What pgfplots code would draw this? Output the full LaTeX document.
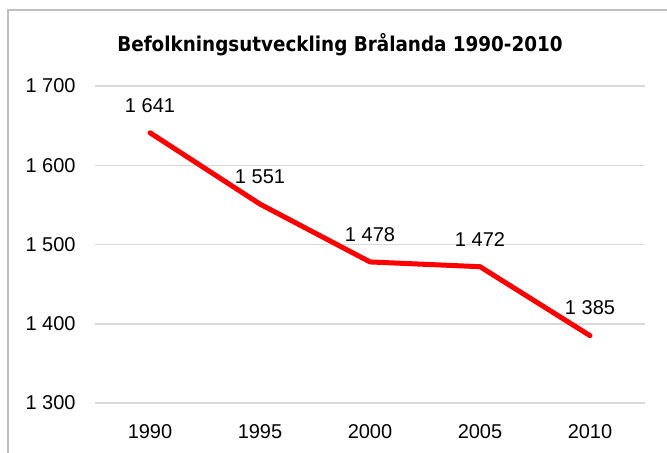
\documentclass[border=0pt]{standalone}
\usepackage{pgfplots}
\pgfplotsset{compat=1.18}
\usepackage{fontspec}
\setmainfont{Liberation Sans}
\newfontfamily\titlefont{DejaVu Sans Condensed}
\definecolor{gridc}{HTML}{D9D9D9}
\definecolor{framec}{HTML}{BFBFBF}
\begin{document}
\begin{tikzpicture}
\useasboundingbox (0,0) rectangle (333.5pt,226pt);
\draw[framec, line width=0.8pt] (4pt,-20pt) rectangle (350pt,221pt);
\node[font=\titlefont\bfseries\fontsize{10.2}{12}\selectfont] at (170pt,203.5pt) {Befolkningsutveckling Brålanda 1990-2010};
\begin{axis}[
  at={(47.5pt,24.5pt)}, anchor=south west,
  scale only axis, width=275pt, height=158.5pt,
  xmin=-0.5, xmax=4.5, ymin=1300, ymax=1700,
  xtick={0,1,2,3,4}, xticklabels={1990,1995,2000,2005,2010},
  ytick={1300,1400,1500,1600,1700},
  axis line style={draw=none},
  major tick length=0pt,
  ymajorgrids, grid style={gridc, line width=0.75pt},
  tick label style={font=\fontsize{10}{12}\selectfont},
  /pgf/number format/assume math mode=true,
  /pgf/number format/1000 sep={\ },
  xticklabel style={yshift=-7pt},
  yticklabel style={anchor=east, inner sep=0pt, xshift=-9.5pt},
  nodes near coords,
  every node near coord/.append style={font=\fontsize{10}{12}\selectfont, text=black, anchor=south, inner sep=0pt, yshift=9pt},
  clip=false,
]
\addplot[red, line width=2.5pt, line join=round, line cap=round, mark=none] coordinates {
(0,1641) (1,1551) (2,1478) (3,1472) (4,1385)};
\end{axis}
\end{tikzpicture}
\end{document}
